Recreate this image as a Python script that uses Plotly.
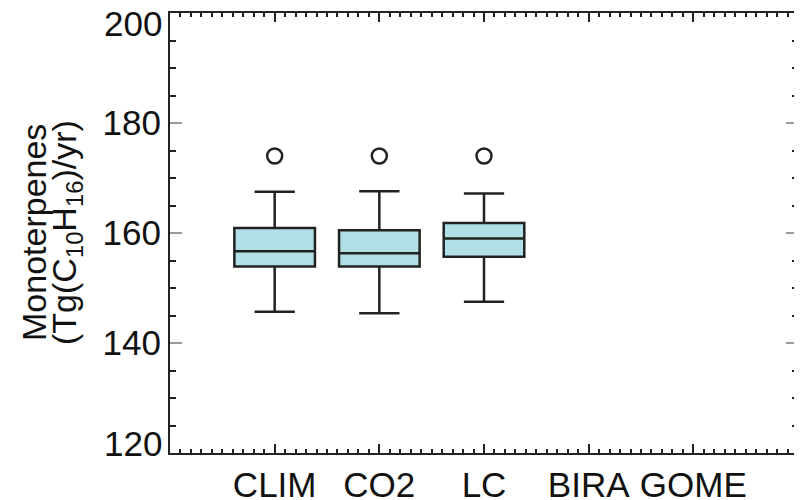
import plotly.graph_objects as go

# ---- data ----
categories = ["CLIM", "CO2", "LC", "BIRA", "GOME"]
positions = [1, 2, 3, 4, 5]
box_pos = [1, 2, 3]
q1 = [153.9, 153.9, 155.7]
median = [156.7, 156.3, 159.0]
q3 = [160.9, 160.5, 161.8]
lowerfence = [145.7, 145.4, 147.5]
upperfence = [167.5, 167.6, 167.2]
outlier_x = [1, 2, 3]
outlier_y = [174.0, 174.0, 174.0]
y_ticks = [120, 140, 160, 180, 200]
y_ticktext = ["", "140", "160", "180", ""]   # end labels drawn below, nudged inward
y_end_labels = [(200, "200", -10), (120, "120", 10)]

FONT = "Liberation Sans, Arial, Helvetica, sans-serif"
FS = 35
# page body has an 8px margin -> figure sized to fit the 802x500 window
W, H = 794, 492
ML, MR, MT, MB = 162, 4, 5, 47

fig = go.Figure()
fig.add_trace(go.Box(
    x=box_pos, q1=q1, median=median, q3=q3,
    lowerfence=lowerfence, upperfence=upperfence,
    boxpoints=False, width=0.77, whiskerwidth=0.5,
    fillcolor="#b0e0e6", line=dict(color="#222222", width=2.5),
    showlegend=False, hoverinfo="skip",
))
fig.add_trace(go.Scatter(
    x=outlier_x, y=outlier_y, mode="markers",
    marker=dict(symbol="circle-open", size=15, color="#222222",
                line=dict(width=2.5, color="#222222")),
    showlegend=False, hoverinfo="skip",
))

fig.update_xaxes(
    type="linear", range=[0, 6], tickvals=positions, ticktext=categories,
    ticks="inside", ticklen=9, tickwidth=1.5, tickcolor="#222222",
    showline=True, linecolor="#222222", linewidth=2, mirror="ticks",
    showgrid=False, zeroline=False, ticklabelstandoff=0, automargin=False,
    tickfont=dict(family=FONT, size=FS, color="#111111"),
    minor=dict(dtick=0.1, tick0=0, ticks="inside", ticklen=4, tickwidth=1.5,
               tickcolor="#222222", showgrid=False),
)
fig.update_yaxes(
    range=[120, 200], tickvals=y_ticks, ticktext=y_ticktext,
    ticks="inside", ticklen=12, tickwidth=1.5, tickcolor="#999999",
    showline=True, linecolor="#222222", linewidth=2, mirror="ticks",
    showgrid=False, zeroline=False, automargin=False,
    tickfont=dict(family=FONT, size=FS, color="#111111"),
    minor=dict(dtick=5, tick0=120, ticks="inside", ticklen=6, tickwidth=1.5,
               tickcolor="#222222", showgrid=False),
)

for yv, txt, shift in y_end_labels:
    fig.add_annotation(text=txt, xref="paper", yref="y", x=0, y=yv,
                       xanchor="right", yanchor="middle", xshift=-6, yshift=shift,
                       showarrow=False,
                       font=dict(family=FONT, size=FS, color="#111111"))

pw = W - ML - MR
TFS = 34
fig.add_annotation(text="Monoterpenes", xref="paper", yref="paper",
                   x=(26 - ML) / pw, y=0.5, textangle=-90, showarrow=False,
                   xanchor="center", yanchor="middle",
                   font=dict(family=FONT, size=TFS, color="#111111"))
fig.add_annotation(text="(Tg(C<sub>10</sub>H<sub>16</sub>)/yr)", xref="paper", yref="paper",
                   x=(58 - ML) / pw, y=0.5, textangle=-90, showarrow=False,
                   xanchor="center", yanchor="middle",
                   font=dict(family=FONT, size=TFS, color="#111111"))

fig.update_layout(
    width=W, height=H, margin=dict(l=ML, r=MR, t=MT, b=MB),
    paper_bgcolor="white", plot_bgcolor="white",
)
fig.write_html("out.html")
